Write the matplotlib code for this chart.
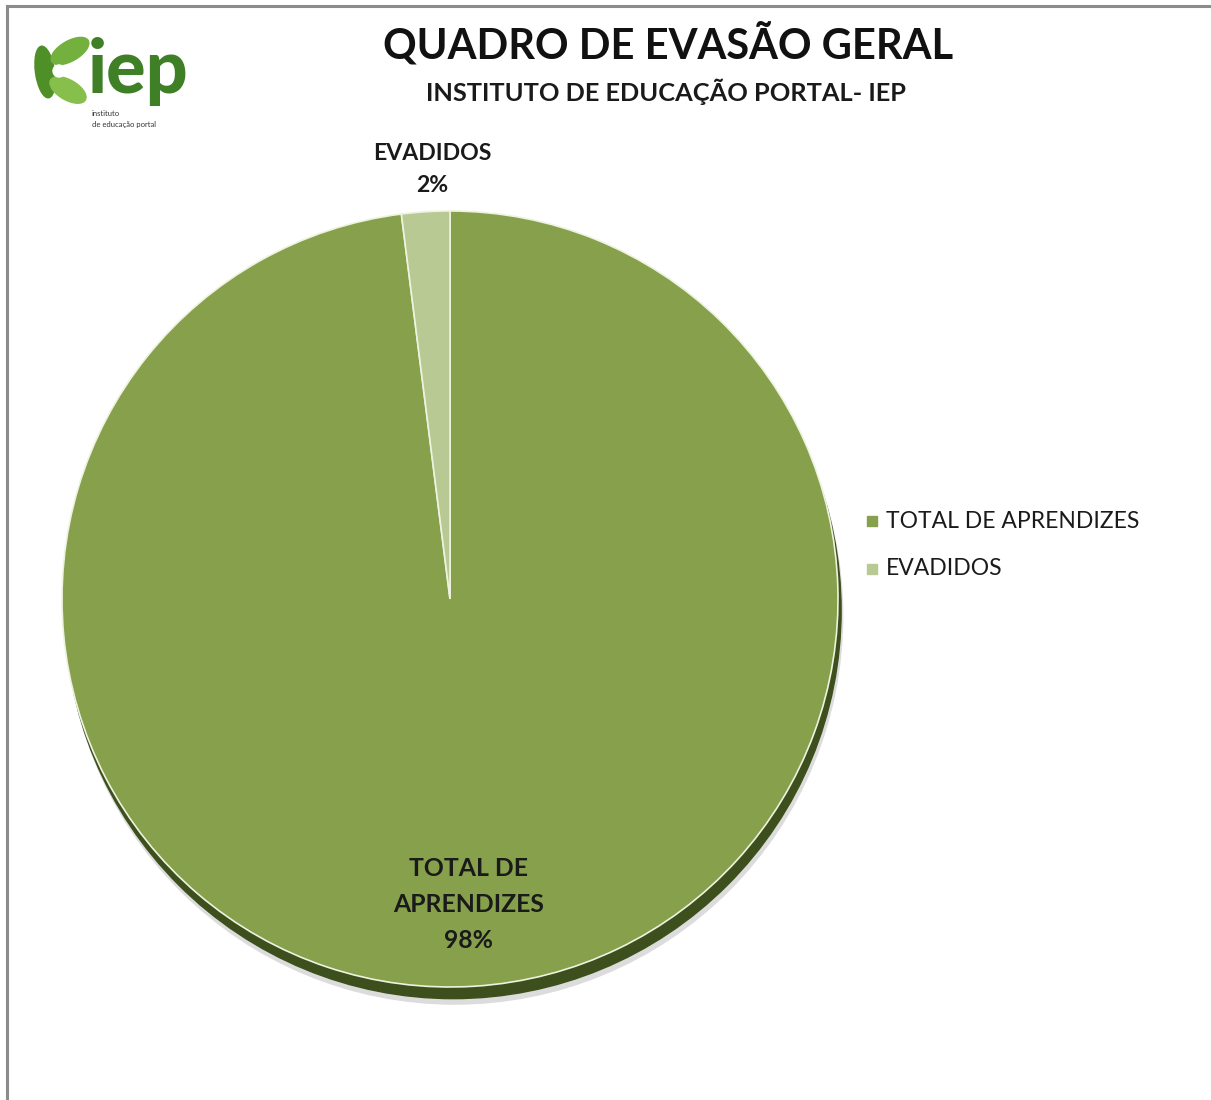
import numpy as np
import matplotlib
matplotlib.use("Agg")
import matplotlib.pyplot as plt
from matplotlib.patches import Circle, Ellipse, Rectangle
from matplotlib.lines import Line2D

plt.rcParams["font.family"] = ["Lato", "DejaVu Sans"]

# ---------------- data
labels = ["TOTAL DE APRENDIZES", "EVADIDOS"]
values = [98, 2]
colors = ["#86a04c", "#b8c993"]
title = "QUADRO DE EVASÃO GERAL"
subtitle = "INSTITUTO DE EDUCAÇÃO PORTAL- IEP"

W, H = 1211, 1100
fig = plt.figure(figsize=(W / 100, H / 100), dpi=100)
fig.patch.set_facecolor("white")


def fx(px):
    return px / W


def fy(py):
    return 1 - py / H


# frame (top and left edges only, the rest is cropped)
fig.add_artist(Line2D([fx(7), 1], [fy(6), fy(6)], color="#8c8c8c", lw=2.2))
fig.add_artist(Line2D([fx(7), fx(7)], [fy(6), 0], color="#8c8c8c", lw=2.2))

# ---------------- pie
cx, cy, r = 450, 599, 388
pad = 30  # room for the shadow
ax = fig.add_axes([fx(cx - r - pad), fy(cy + r + pad),
                   2 * (r + pad) / W, 2 * (r + pad) / H])
lim = 1 + pad / r

# soft shadow + dark 3d rim
ax.add_patch(Circle((0.012, -0.044), 1.0, color="#dcdcdc", zorder=0))
ax.add_patch(Circle((0.008, -0.030), 1.0, color="#3d4f1c", zorder=1))

wedges, _ = ax.pie(values, colors=colors, startangle=90, counterclock=False,
                   radius=1.0, center=(0, 0), frame=True,
                   wedgeprops=dict(edgecolor="#eef3e0", linewidth=1.2))
for w in wedges:
    w.set_zorder(2)
ax.set_xlim(-lim, lim)
ax.set_ylim(-lim, lim)
ax.set_aspect("equal")
ax.axis("off")

total = sum(values)
pct = [f"{v / total * 100:.0f}%" for v in values]

# EVADIDOS label outside, above the slice
fig.text(fx(432), fy(153), "EVADIDOS", ha="center", va="center",
         fontsize=16.6, fontweight="bold", color="#1a1a1a")
fig.text(fx(432), fy(186), pct[1], ha="center", va="center",
         fontsize=16.6, fontweight="bold", color="#1a1a1a")

# TOTAL label inside, near the bottom
fig.text(fx(469), fy(869), "TOTAL DE", ha="center", va="center",
         fontsize=17.8, fontweight="bold", color="#1a1a1a")
fig.text(fx(469), fy(905), "APRENDIZES", ha="center", va="center",
         fontsize=17.8, fontweight="bold", color="#1a1a1a")
fig.text(fx(469), fy(940), pct[0], ha="center", va="center",
         fontsize=17.8, fontweight="bold", color="#1a1a1a")

# ---------------- titles
fig.text(fx(668), fy(44), title, ha="center", va="center",
         fontsize=30, fontweight="bold", color="#111111")
fig.text(fx(666), fy(92), subtitle, ha="center", va="center",
         fontsize=18.3, fontweight="bold", color="#1a1a1a")

# ---------------- legend
leg_y = [521, 569]
for lab, col, ly in zip(labels, colors, leg_y):
    fig.add_artist(Rectangle((fx(867), fy(ly + 5)), 10 / W, 10 / H,
                             color=col, transform=fig.transFigure))
    fig.text(fx(886), fy(ly), lab, ha="left", va="center",
             fontsize=16.5, color="#1a1a1a")

# ---------------- logo  (data coords: x = px - 30, y = 135 - py)
lax = fig.add_axes([fx(30), fy(135), 160 / W, 110 / H])
lax.set_xlim(0, 160)
lax.set_ylim(0, 110)
lax.axis("off")
lax.add_patch(Ellipse((15, 63), 19, 52, angle=8, color="#4f8f28"))
lax.add_patch(Ellipse((40, 84), 20, 42, angle=-60, color="#74b03e"))
lax.add_patch(Ellipse((38, 45), 20, 40, angle=60, color="#86bf4c"))
lax.add_patch(Circle((29, 64), 6, color="white"))
lax.text(58, 64, "iep", ha="left", va="center", fontsize=53,
         fontweight="black", color="#3f7f25")
lax.text(62, 21, "instituto", ha="left", va="center", fontsize=5.5,
         color="#333333")
lax.text(62, 11, "de educação portal", ha="left", va="center", fontsize=5.5,
         color="#333333")

fig.savefig("out.png", dpi=100, facecolor="white")
